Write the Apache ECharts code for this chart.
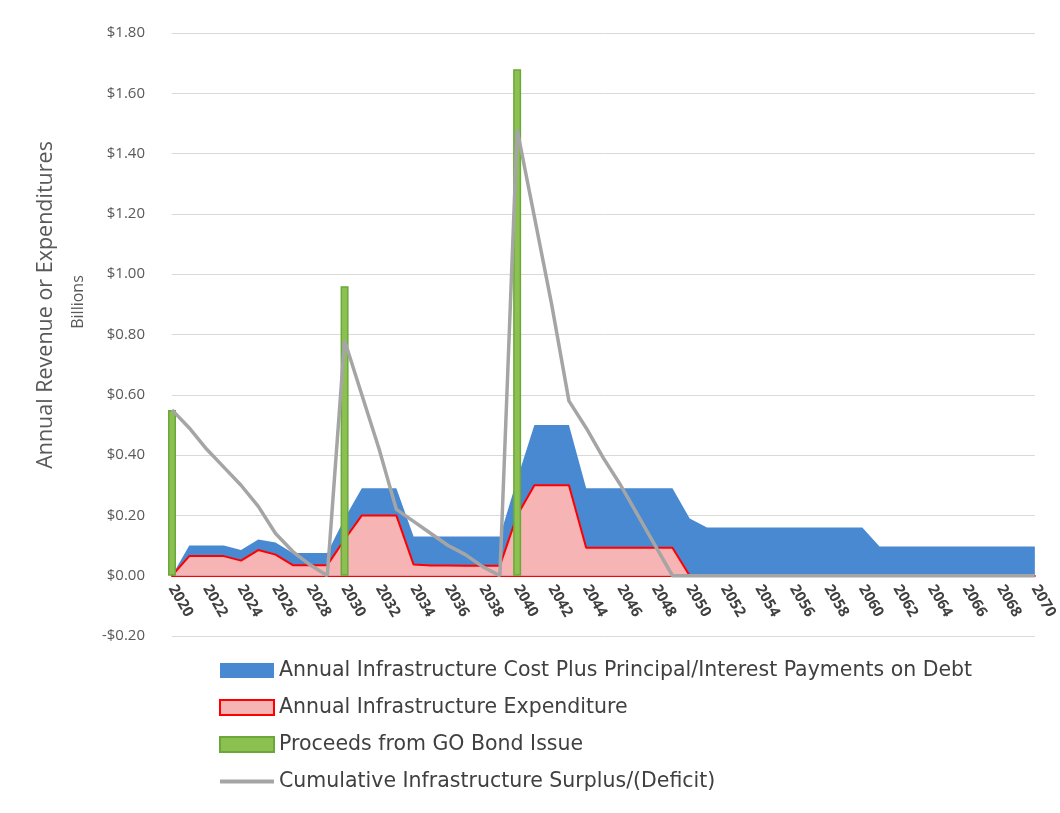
<!DOCTYPE html>
<html>
<head>
<meta charset="utf-8">
<script src="https://cdn.jsdelivr.net/npm/echarts@6/dist/echarts.min.js"></script>
<style>
  html, body { margin: 0; padding: 0; background: #fff; }
  #chart { width: 1060px; height: 813px; }
</style>
</head>
<body>
<div id="chart"></div>
<script>
// years 2020 .. 2070
var years = [];
for (var y = 2020; y <= 2070; y++) years.push(String(y));

// Annual Infrastructure Cost Plus Principal/Interest Payments on Debt ($B)
var totalCost = [
  0, 0.10, 0.10, 0.10, 0.085, 0.12, 0.11, 0.075, 0.075, 0.075,
  0.19, 0.29, 0.29, 0.29, 0.13, 0.13, 0.13, 0.13, 0.13, 0.13,
  0.32, 0.50, 0.50, 0.50, 0.29, 0.29, 0.29, 0.29, 0.29, 0.29,
  0.19, 0.16, 0.16, 0.16, 0.16, 0.16, 0.16, 0.16, 0.16, 0.16,
  0.16, 0.097, 0.097, 0.097, 0.097, 0.097, 0.097, 0.097, 0.097, 0.097,
  0.097
];
// Annual Infrastructure Expenditure ($B)
var expenditure = [
  0, 0.065, 0.065, 0.065, 0.05, 0.085, 0.07, 0.035, 0.035, 0.035,
  0.12, 0.20, 0.20, 0.20, 0.037, 0.034, 0.034, 0.033, 0.033, 0.033,
  0.20, 0.30, 0.30, 0.30, 0.093, 0.093, 0.093, 0.093, 0.093, 0.093,
  0, 0, 0, 0, 0, 0, 0, 0, 0, 0,
  0, 0, 0, 0, 0, 0, 0, 0, 0, 0,
  0
];
// Proceeds from GO Bond Issue ($B)
var bondProceeds = [
  0.55, null, null, null, null, null, null, null, null, null,
  0.96, null, null, null, null, null, null, null, null, null,
  1.68, null, null, null, null, null, null, null, null, null,
  null, null, null, null, null, null, null, null, null, null,
  null, null, null, null, null, null, null, null, null, null,
  null
];
// Cumulative Infrastructure Surplus/(Deficit) ($B)
var cumulative = [
  0.55, 0.49, 0.42, 0.36, 0.30, 0.23, 0.14, 0.08, 0.036, 0,
  0.78, 0.60, 0.42, 0.22, 0.18, 0.14, 0.10, 0.07, 0.03, 0,
  1.48, 1.19, 0.90, 0.58, 0.49, 0.39, 0.30, 0.20, 0.10, 0,
  0, 0, 0, 0, 0, 0, 0, 0, 0, 0,
  0, 0, 0, 0, 0, 0, 0, 0, 0, 0,
  0
];

var names = [
  "Annual Infrastructure Cost Plus Principal/Interest Payments on Debt",
  "Annual Infrastructure Expenditure",
  "Proceeds from GO Bond Issue",
  "Cumulative Infrastructure Surplus/(Deficit)"
];

var fontFamily = "'Open Sans', 'Noto Sans', sans-serif";
var legendFont = "'DejaVu Sans', 'Open Sans', sans-serif";
var myChart = echarts.init(document.getElementById("chart"));

var option = {
  backgroundColor: "#fff",
  animation: false,
  textStyle: { fontFamily: fontFamily },
  grid: { left: 172, right: 20, top: 33, bottom: 177 },
  graphic: [
    {
      type: "text",
      x: 35, y: 305,
      rotation: Math.PI / 2,
      style: {
        text: "Annual Revenue or Expenditures",
        font: "21.5px " + fontFamily,
        fill: "#595959",
        align: "center",
        verticalAlign: "top"
      }
    },
    {
      type: "text",
      x: 70, y: 302,
      rotation: Math.PI / 2,
      style: {
        text: "Billions",
        font: "16px " + fontFamily,
        fill: "#595959",
        align: "center",
        verticalAlign: "top"
      }
    }
  ],
  legend: {
    orient: "vertical",
    left: 213,
    top: 655,
    itemWidth: 54,
    itemHeight: 15,
    itemGap: 16,
    textStyle: { fontSize: 20.5, lineHeight: 20, color: "#404040", fontFamily: legendFont },
    data: [
      { name: names[0], icon: "rect", itemStyle: { color: "#4889d2" } },
      { name: names[1], icon: "rect", itemStyle: { color: "#f7b4b4", borderColor: "#ff0000", borderWidth: 2 } },
      { name: names[2], icon: "rect", itemStyle: { color: "#8cc152", borderColor: "#6aa83a", borderWidth: 2 } },
      { name: names[3], itemStyle: { opacity: 0 }, lineStyle: { color: "#a5a5a5", width: 4, opacity: 1 } }
    ]
  },
  xAxis: {
    type: "category",
    data: years,
    boundaryGap: false,
    offset: -60,
    axisLine: { onZero: false, lineStyle: { color: "#ff0000", width: 2 } },
    axisTick: { show: false },
    axisLabel: {
      interval: 1,
      rotate: -60,
      fontSize: 15,
      fontWeight: "bold",
      color: "#404040",
      margin: 10
    },
    splitLine: { show: false }
  },
  yAxis: {
    type: "value",
    min: -0.2,
    max: 1.8,
    interval: 0.2,
    axisLine: { show: false },
    axisTick: { show: false },
    axisLabel: {
      fontSize: 15,
      color: "#595959",
      margin: 27,
      formatter: function (v) {
        return (v < 0 ? "-" : "") + "$" + Math.abs(v).toFixed(2);
      }
    },
    splitLine: { lineStyle: { color: "#d9d9d9", width: 1 } }
  },
  series: [
    {
      name: names[0],
      type: "line",
      data: totalCost,
      symbol: "none",
      lineStyle: { width: 0, color: "#4889d2" },
      itemStyle: { color: "#4889d2" },
      areaStyle: { color: "#4889d2", opacity: 1 },
      z: 1
    },
    {
      name: names[1],
      type: "line",
      data: expenditure,
      symbol: "none",
      lineStyle: { width: 2, color: "#ff0000" },
      itemStyle: { color: "#f7b4b4" },
      areaStyle: { color: "#f7b4b4", opacity: 1 },
      z: 2
    },
    {
      name: names[2],
      type: "bar",
      data: bondProceeds,
      barWidth: 8,
      clip: false,
      itemStyle: { color: "#8cc152", borderColor: "#6aa83a", borderWidth: 1.5 },
      z: 3
    },
    {
      name: names[3],
      type: "line",
      data: cumulative,
      symbol: "none",
      lineStyle: { width: 3.5, color: "#a5a5a5" },
      itemStyle: { color: "#a5a5a5" },
      z: 4
    }
  ]
};

myChart.setOption(option);
</script>
</body>
</html>
